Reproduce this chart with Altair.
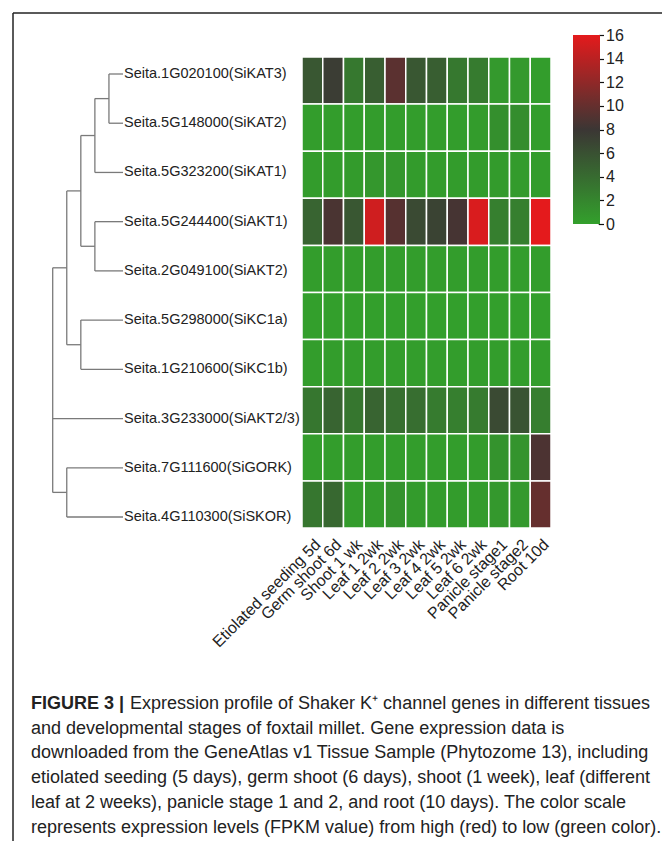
import altair as alt
import pandas as pd

# ---------------- data ----------------
genes = [
    "Seita.1G020100(SiKAT3)",
    "Seita.5G148000(SiKAT2)",
    "Seita.5G323200(SiKAT1)",
    "Seita.5G244400(SiAKT1)",
    "Seita.2G049100(SiAKT2)",
    "Seita.5G298000(SiKC1a)",
    "Seita.1G210600(SiKC1b)",
    "Seita.3G233000(SiAKT2/3)",
    "Seita.7G111600(SiGORK)",
    "Seita.4G110300(SiSKOR)",
]
tissues = [
    "Etiolated seeding 5d", "Germ shoot 6d", "Shoot 1 wk", "Leaf 1 2wk",
    "Leaf 2 2wk", "Leaf 3 2wk", "Leaf 4 2wk", "Leaf 5 2wk", "Leaf 6 2wk",
    "Panicle stage1", "Panicle stage2", "Root 10d",
]
fpkm_SiKAT3 = [5.5, 7.5, 3.0, 5.0, 9.5, 5.5, 5.0, 3.0, 2.8, 0.5, 0.5, 0.2]
fpkm_SiKAT2 = [0.2, 0.2, 0.2, 0.3, 0.2, 0.2, 0.2, 0.2, 0.3, 1.3, 1.4, 0.2]
fpkm_SiKAT1 = [0.3, 0.3, 0.4, 0.7, 0.7, 0.4, 0.3, 0.3, 0.3, 0.4, 0.4, 0.3]
fpkm_SiAKT1 = [4.5, 8.7, 5.5, 15.0, 9.3, 6.5, 7.0, 8.5, 15.5, 2.5, 2.5, 16.0]
fpkm_SiAKT2 = [0.2, 0.2, 0.2, 0.2, 0.2, 0.2, 0.2, 0.2, 0.2, 0.2, 0.2, 0.2]
fpkm_SiKC1a = [0.1, 0.1, 0.1, 0.1, 0.1, 0.1, 0.1, 0.1, 0.1, 0.1, 0.1, 0.1]
fpkm_SiKC1b = [0.2, 0.2, 0.2, 0.2, 0.2, 0.2, 0.2, 0.2, 0.2, 0.2, 0.2, 0.2]
fpkm_SiAKT23 = [3.2, 4.5, 3.2, 4.5, 3.7, 3.8, 2.8, 2.5, 2.8, 6.5, 5.8, 2.6]
fpkm_SiGORK = [0.2, 0.2, 0.2, 0.2, 0.2, 0.2, 0.2, 0.2, 0.3, 1.0, 0.9, 8.8]
fpkm_SiSKOR = [3.2, 4.2, 0.3, 0.4, 1.0, 0.4, 0.3, 0.3, 0.3, 0.6, 0.5, 10.0]
fpkm_rows = [fpkm_SiKAT3, fpkm_SiKAT2, fpkm_SiKAT1, fpkm_SiAKT1, fpkm_SiAKT2,
             fpkm_SiKC1a, fpkm_SiKC1b, fpkm_SiAKT23, fpkm_SiGORK, fpkm_SiSKOR]

# dendrogram: leaves 0..9 are genes in order; internal nodes numbered from 10
merge_children = [[0, 1], [10, 2], [3, 4], [11, 12], [5, 6], [13, 14], [8, 9], [15, 7, 16]]
merge_heights = [1, 2, 2, 3, 3, 4, 4, 5]

colorbar_ticks = [0, 2, 4, 6, 8, 10, 12, 14, 16]

caption_bold = "FIGURE 3 |"
caption_lines = [
    " Expression profile of Shaker K\u207a channel genes in different tissues",
    "and developmental stages of foxtail millet. Gene expression data is",
    "downloaded from the GeneAtlas v1 Tissue Sample (Phytozome 13), including",
    "etiolated seeding (5 days), germ shoot (6 days), shoot (1 week), leaf (different",
    "leaf at 2 weeks), panicle stage 1 and 2, and root (10 days). The color scale",
    "represents expression levels (FPKM value) from high (red) to low (green color).",
]

# ---------------- tables ----------------
heat = pd.DataFrame(
    [{"gene": g, "tissue": t, "fpkm": v}
     for g, row in zip(genes, fpkm_rows) for t, v in zip(tissues, row)]
)

node_y = {i: float(i) for i in range(len(genes))}
node_h = {i: 0.0 for i in range(len(genes))}
segs = []
for k, (children, h) in enumerate(zip(merge_children, merge_heights)):
    nid = len(genes) + k
    ys = [node_y[c] for c in children]
    for c in children:
        segs.append({"x": node_h[c], "x2": h, "y": node_y[c], "y2": node_y[c]})
    segs.append({"x": h, "x2": h, "y": min(ys), "y2": max(ys)})
    node_y[nid] = (min(ys) + max(ys)) / 2
    node_h[nid] = float(h)
seg_df = pd.DataFrame(segs)
leaf_df = pd.DataFrame({"gene": genes, "leaf": list(range(len(genes))), "h": [0.0] * len(genes)})

cap_df = pd.DataFrame({"line": list(range(len(caption_lines))), "text": caption_lines})
cap_bold_df = pd.DataFrame({"line": [0], "text": [caption_bold]})
cbar_df = pd.DataFrame({"v": [colorbar_ticks[0], colorbar_ticks[-1]]})

FONT = "Liberation Sans"
W, H = 654, 833
CAP_SIZE = 18

# ---------------- scales ----------------
dx_scale = alt.Scale(domain=[0, 5], range=[115, 44.7])
dy_scale = alt.Scale(domain=[0, 9], range=[66, 509])
hx_scale = alt.Scale(domain=tissues, range=[294, 543], paddingInner=0, paddingOuter=0)
hy_scale = alt.Scale(domain=genes, range=[49, 520], paddingInner=0, paddingOuter=0)
cap_scale = alt.Scale(domain=[0, 5], range=[696, 819.5])
green, dark, red = "#33a02c", "#3b3634", "#e41a1c"

# ---------------- layers ----------------
frame_v = alt.Chart(cbar_df).mark_rule(color="#222", strokeWidth=1).encode(
    x=alt.value(5), y=alt.value(5), y2=alt.value(H))
frame_h = alt.Chart(cbar_df).mark_rule(color="#222", strokeWidth=1).encode(
    x=alt.value(5), x2=alt.value(W), y=alt.value(5))

dendro = alt.Chart(seg_df).mark_rule(color="#7a7a7a", strokeWidth=1.3).encode(
    x=alt.X("x:Q", scale=dx_scale, axis=None),
    x2="x2:Q",
    y=alt.Y("y:Q", scale=dy_scale, axis=None),
    y2="y2:Q",
)
labels = alt.Chart(leaf_df).mark_text(
    align="left", baseline="middle", dx=1, font=FONT, fontSize=14.5, color="#222"
).encode(
    x=alt.X("h:Q", scale=dx_scale, axis=None),
    y=alt.Y("leaf:Q", scale=dy_scale, axis=None),
    text="gene:N",
)

heatmap = alt.Chart(heat).mark_rect(stroke="#ffffff", strokeWidth=1.5).encode(
    x=alt.X("tissue:N", sort=tissues, scale=hx_scale, title=None,
            axis=alt.Axis(orient="bottom", offset=520 - H, labelAngle=-45, ticks=False,
                          domain=False, labelFont=FONT, labelFontSize=16,
                          labelColor="#222", labelPadding=9, labelLimit=0)),
    y=alt.Y("gene:N", sort=genes, scale=hy_scale, axis=None),
    color=alt.Color(
        "fpkm:Q",
        scale=alt.Scale(domain=[0, 8, 16], range=[green, dark, red], interpolate="rgb"),
        legend=alt.Legend(orient="none", legendX=565, legendY=27, direction="vertical",
                          gradientLength=189, gradientThickness=27, labelExpr="''",
                          title=None, padding=0, gradientStrokeWidth=0),
    ),
)

cbar_axis = alt.Chart(cbar_df).mark_rule(opacity=0).encode(
    y=alt.Y("v:Q", scale=alt.Scale(domain=[0, 16], range=[216, 27]), title=None,
            axis=alt.Axis(orient="right", offset=591.5 - W, values=colorbar_ticks,
                          tickSize=5, tickColor="#111", domainColor="#111",
                          domainWidth=1.2, tickWidth=1.2, grid=False,
                          labelFont=FONT, labelFontSize=16, labelColor="#222",
                          labelPadding=2)),
)

cap_bold = alt.Chart(cap_bold_df).mark_text(
    align="left", baseline="middle", font=FONT, fontSize=CAP_SIZE, fontWeight="bold", color="#222"
).encode(x=alt.value(23), y=alt.Y("line:Q", scale=cap_scale, axis=None), text="text:N")
cap_first = alt.Chart(cap_df).transform_filter("datum.line == 0").mark_text(
    align="left", baseline="middle", font=FONT, fontSize=CAP_SIZE, color="#222", dx=99
).encode(x=alt.value(23), y=alt.Y("line:Q", scale=cap_scale, axis=None), text="text:N")
cap_rest = alt.Chart(cap_df).transform_filter("datum.line > 0").mark_text(
    align="left", baseline="middle", font=FONT, fontSize=CAP_SIZE, color="#222"
).encode(x=alt.value(23), y=alt.Y("line:Q", scale=cap_scale, axis=None), text="text:N")

chart = alt.layer(
    frame_v, frame_h, dendro, labels, heatmap, cbar_axis, cap_bold, cap_first, cap_rest
).resolve_scale(
    x="independent", y="independent", color="independent"
).resolve_axis(x="independent", y="independent").properties(
    width=W, height=H, padding=0,
    autosize=alt.AutoSizeParams(type="fit", contains="padding"),
).configure_view(stroke=None)

chart.save("out.html", embed_options={"renderer": "svg", "actions": False})
